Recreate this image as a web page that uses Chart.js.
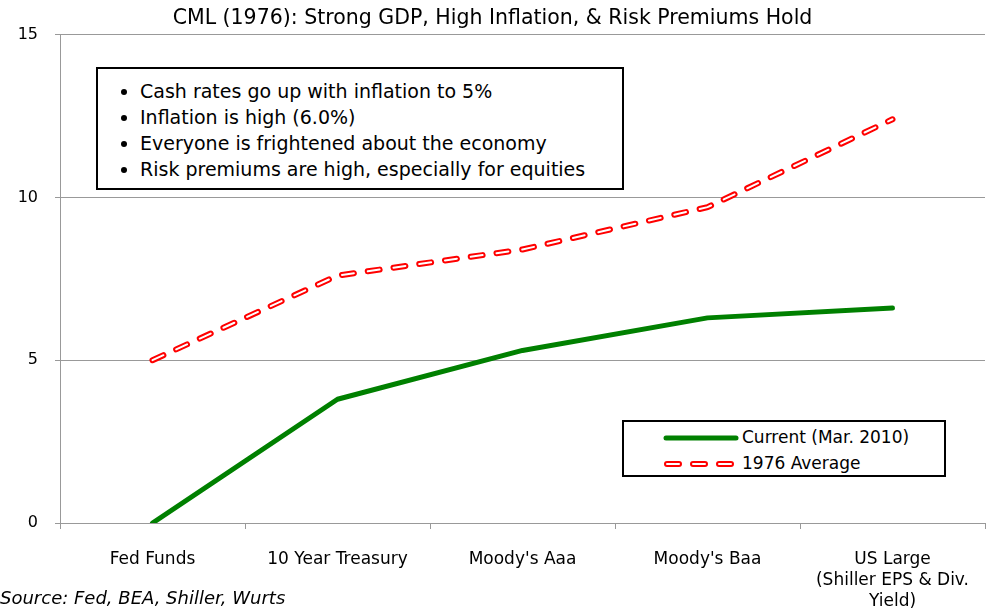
<!DOCTYPE html>
<html>
<head>
<meta charset="utf-8">
<script src="https://cdn.jsdelivr.net/npm/chart.js@4"></script>
<style>
  html, body { margin: 0; padding: 0; background: #fff; }
  #wrap { position: relative; width: 992px; height: 609px; font-family: "DejaVu Sans", sans-serif; color: #000; }
  #chart { position: absolute; left: 0; top: 0; }
  .note { position: absolute; left: 96px; top: 67px; width: 528px; height: 123px; border: 2px solid #000; background: #fff; box-sizing: border-box; }
  .note ul { margin: 0; padding: 9px 0 0 42px; list-style: disc; font-size: 19px; line-height: 26px; }
  .legend { position: absolute; left: 622px; top: 420px; width: 324px; height: 57px; border: 2px solid #000; background: #fff; box-sizing: border-box; font-size: 17px; }
  .legend .row { position: absolute; left: 38px; height: 24px; line-height: 24px; white-space: nowrap; }
  .legend svg { vertical-align: middle; margin-right: 2px; }
  .source { position: absolute; left: 0; top: 587px; font-size: 18px; font-style: italic; }
</style>
</head>
<body>
<div id="wrap">
  <canvas id="chart" width="992" height="609"></canvas>
  <div class="note">
    <ul>
      <li>Cash rates go up with inflation to 5%</li>
      <li>Inflation is high (6.0%)</li>
      <li>Everyone is frightened about the economy</li>
      <li>Risk premiums are high, especially for equities</li>
    </ul>
  </div>
  <div class="legend">
    <div class="row" style="top:3px">
      <svg width="78" height="10"><line x1="4" y1="5" x2="74" y2="5" stroke="#008000" stroke-width="5" stroke-linecap="round"/></svg>Current (Mar. 2010)
    </div>
    <div class="row" style="top:29px">
      <svg width="78" height="10">
        <line x1="5" y1="5" x2="75" y2="5" stroke="#ff0000" stroke-width="6" stroke-linecap="round" stroke-dasharray="12 14"/>
        <line x1="5" y1="5" x2="75" y2="5" stroke="#ffffff" stroke-width="2" stroke-linecap="round" stroke-dasharray="12 14"/>
      </svg>1976 Average
    </div>
  </div>
  <div class="source">Source: Fed, BEA, Shiller, Wurts</div>
</div>
<script>
// categories and values
const categories = ['Fed Funds', '10 Year Treasury', "Moody's Aaa", "Moody's Baa", ['US Large', '(Shiller EPS & Div.', 'Yield)']];
const currentValues = [0.0, 3.8, 5.3, 6.3, 6.6];
const avg1976Values = [5.0, 7.6, 8.4, 9.7, 12.4];
const yTicks = [0, 5, 10, 15];

const fontFamily = '"DejaVu Sans", sans-serif';
const gridColor = '#999999';

const ctx = document.getElementById('chart').getContext('2d');
new Chart(ctx, {
    type: 'line',
    data: {
        labels: categories,
        datasets: [
            {
                // white core of the hollow dashed line
                label: '1976 Average (inner)',
                data: avg1976Values,
                borderColor: '#ffffff',
                borderWidth: 2,
                borderDash: [12, 14],
                borderCapStyle: 'round',
                pointRadius: 0,
                tension: 0,
                order: 0
            },
            {
                label: '1976 Average',
                data: avg1976Values,
                borderColor: '#ff0000',
                borderWidth: 6,
                borderDash: [12, 14],
                borderCapStyle: 'round',
                pointRadius: 0,
                tension: 0,
                order: 1
            },
            {
                label: 'Current (Mar. 2010)',
                data: currentValues,
                borderColor: '#008000',
                borderWidth: 5,
                borderCapStyle: 'round',
                borderJoinStyle: 'round',
                pointRadius: 0,
                tension: 0,
                order: 2
            }
        ]
    },
    options: {
        responsive: false,
        animation: false,
        layout: { padding: { left: 0, right: 7, top: 6, bottom: 0 } },
        plugins: {
            legend: { display: false },
            tooltip: { enabled: false },
            title: {
                display: true,
                text: 'CML (1976): Strong GDP, High Inflation, & Risk Premiums Hold',
                color: '#000',
                font: { family: fontFamily, size: 20.5, weight: 'normal' },
                padding: { top: 0, bottom: 4 }
            }
        },
        scales: {
            x: {
                offset: true,
                grid: {
                    offset: true,
                    drawOnChartArea: false,
                    drawTicks: true,
                    tickLength: 6,
                    color: gridColor
                },
                border: { color: gridColor, width: 1 },
                ticks: {
                    color: '#000',
                    padding: 20,
                    maxRotation: 0,
                    autoSkip: false,
                    font: { family: fontFamily, size: 17, lineHeight: 1.24 }
                },
                afterFit: function(scale) { scale.height = 86; }
            },
            y: {
                min: 0,
                max: 15,
                afterBuildTicks: function(scale) {
                    scale.ticks = yTicks.map(function(v) { return { value: v }; });
                },
                grid: {
                    color: gridColor,
                    lineWidth: 1,
                    tickLength: 5
                },
                border: { color: gridColor, width: 1 },
                ticks: {
                    color: '#000',
                    padding: 17,
                    font: { family: fontFamily, size: 16 }
                },
                afterFit: function(scale) { scale.width = 60; }
            }
        }
    }
});
</script>
</body>
</html>
